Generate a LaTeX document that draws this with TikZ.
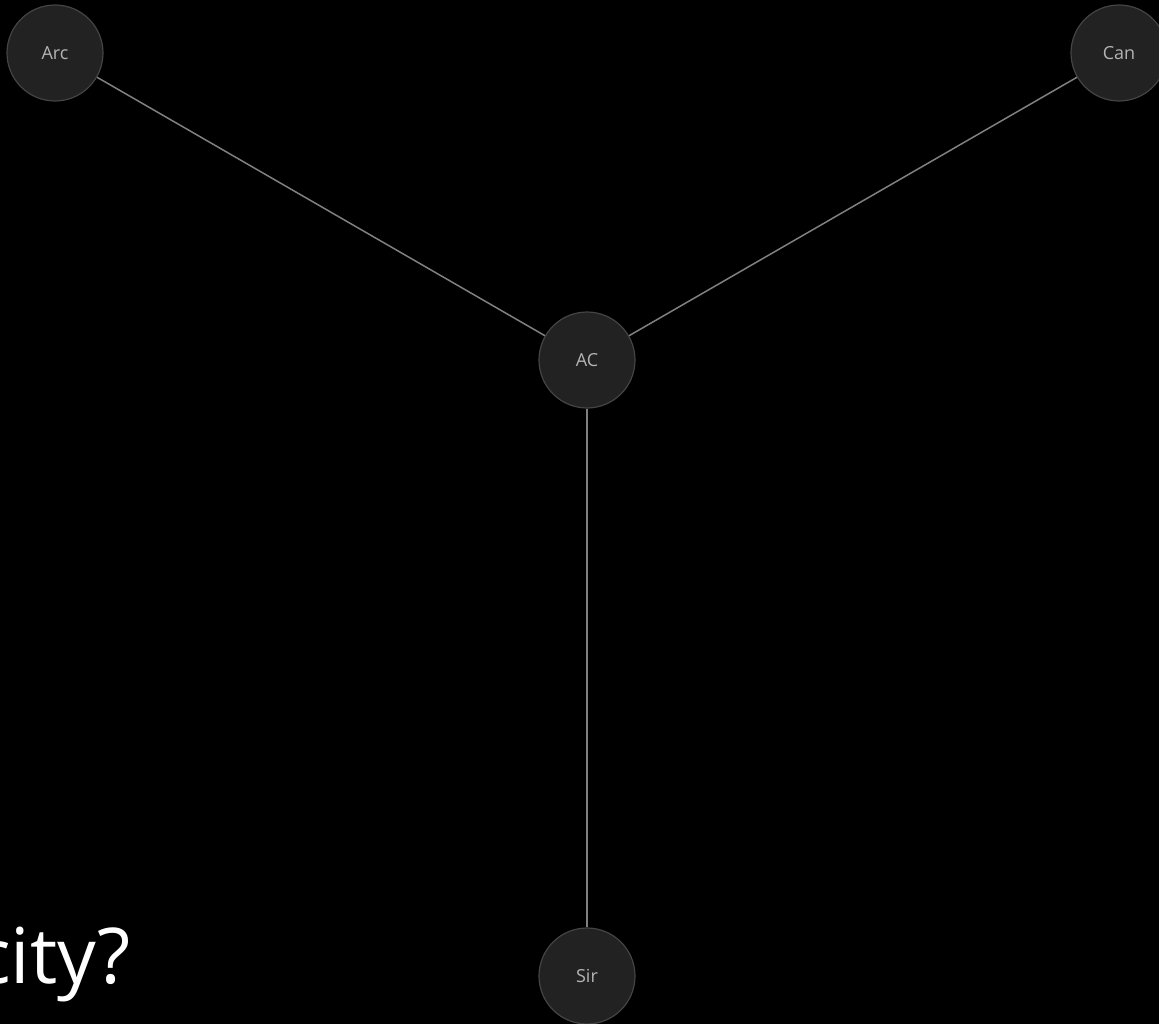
\documentclass[tikz,border=0pt]{standalone}
\usepackage{fontspec}
\setmainfont{Open Sans}
\usetikzlibrary{calc, positioning}

\definecolor{nodefill}{HTML}{222222}
\definecolor{nodeedge}{HTML}{444444}
\definecolor{nodetext}{HTML}{B4B4B4}
\definecolor{linkgray}{HTML}{808080}

\begin{document}
\begin{tikzpicture}[x=1pt,y=-1pt,
  city/.style={circle,fill=nodefill,draw=nodeedge,line width=1.2pt,
    minimum size=96pt,inner sep=0pt,text=nodetext,font=\fontsize{18}{20}\selectfont},
  link/.style={draw=linkgray,line width=1.5pt}]
\def\W{1159}
\def\H{1024}

\fill[black] (0,0) rectangle (\W,\H);
\useasboundingbox (0,0) rectangle (\W,\H);

\node[city] (ac) at (587,360) {AC};
\node[city] (arc) at (55,53) {Arc};
\node[city] (can) at (1119,53) {Can};
\node[city] (sir) at (587,976) {Sir};

\draw[link] (arc) -- (ac);
\draw[link] (can) -- (ac);
\draw[link] (sir) -- (ac);

\node[anchor=base east,inner sep=0pt,text=white,font=\fontsize{77}{80}\selectfont] (question) at (131,983) {city?};
\end{tikzpicture}
\end{document}
